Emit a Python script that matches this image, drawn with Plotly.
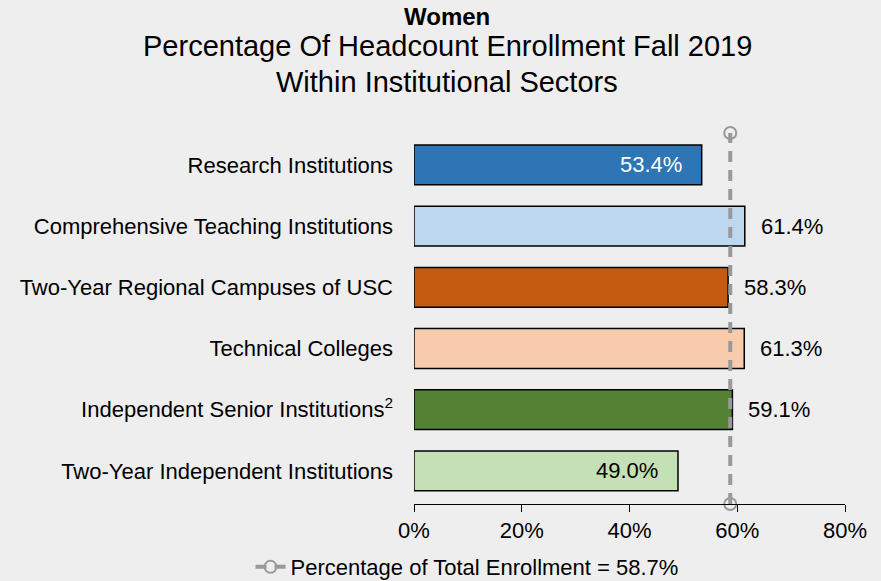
import plotly.graph_objects as go

# data
sectors = [
    "Research Institutions",
    "Comprehensive Teaching Institutions",
    "Two-Year Regional Campuses of USC",
    "Technical Colleges",
    "Independent Senior Institutions<sup>2</sup>",
    "Two-Year Independent Institutions",
]
pct_women = [53.4, 61.4, 58.3, 61.3, 59.1, 49.0]
bar_colors = ["#2E75B6", "#BDD7EE", "#C55A11", "#F8CBAD", "#548235", "#C5E0B4"]
label_colors = ["white", "black", "black", "black", "black", "black"]
label_inside = [True, False, False, False, False, True]
total_pct = 58.7

FONT = "Liberation Sans, Arial, sans-serif"
BG = "#EEEEEE"

n = len(sectors)
ypos = list(range(n - 1, -1, -1))  # top to bottom
y_range = [-0.54, n - 1 + 0.52]

fig = go.Figure()

fig.add_trace(go.Bar(
    x=pct_women, y=ypos, orientation="h",
    marker=dict(color=bar_colors, line=dict(color="black", width=1.5)),
    width=0.65, showlegend=False, hoverinfo="skip",
))

fig.add_trace(go.Scatter(
    x=[total_pct, total_pct], y=y_range,
    mode="lines+markers",
    line=dict(color="#999999", width=4, dash="11px,8px"),
    marker=dict(symbol="circle-open", size=12, color="#999999", line=dict(width=2)),
    name="Percentage of Total Enrollment = %.1f%%" % total_pct,
    cliponaxis=False,
))

# value labels
for v, y, c, inside in zip(pct_women, ypos, label_colors, label_inside):
    fig.add_annotation(
        x=v, y=y, text="%.1f%%" % v, showarrow=False,
        xanchor="right" if inside else "left",
        xshift=-18 if inside else 14,
        font=dict(family=FONT, size=22, color=c),
    )

# titles
title_x = 0.0766
fig.add_annotation(xref="paper", yref="paper", x=title_x, xanchor="center",
                   y=1.313, yanchor="middle",
                   text="<b>Women</b>", showarrow=False,
                   font=dict(family=FONT, size=24, color="black"))
fig.add_annotation(xref="paper", yref="paper", x=title_x, xanchor="center",
                   y=1.234, yanchor="middle",
                   text="Percentage Of Headcount Enrollment Fall 2019", showarrow=False,
                   font=dict(family=FONT, size=29, color="black"))
fig.add_annotation(xref="paper", yref="paper", x=title_x, xanchor="center",
                   y=1.138, yanchor="middle",
                   text="Within Institutional Sectors", showarrow=False,
                   font=dict(family=FONT, size=29, color="black"))

fig.update_layout(
    width=881, height=581,
    margin=dict(l=414, r=36, t=133, b=77, autoexpand=False),
    paper_bgcolor=BG, plot_bgcolor=BG,
    font=dict(family=FONT, size=22, color="black"),
    xaxis=dict(
        range=[0, 80], tickvals=[0, 20, 40, 60, 80],
        ticktext=["0%", "20%", "40%", "60%", "80%"],
        showgrid=False, zeroline=False, showline=True, linecolor="black", linewidth=1,
        ticks="outside", ticklen=7, tickcolor="black", tickwidth=1,
        tickfont=dict(family=FONT, size=22, color="black"),
        automargin=False,
    ),
    yaxis=dict(
        range=y_range, tickvals=ypos, ticktext=sectors,
        showgrid=False, zeroline=False, showline=False, ticks="",
        ticklabelstandoff=20,
        tickfont=dict(family=FONT, size=22, color="black"),
        automargin=False,
    ),
    legend=dict(
        orientation="h", x=0.123, xanchor="center",
        yref="container", y=0.024, yanchor="middle",
        bgcolor="rgba(0,0,0,0)", font=dict(family=FONT, size=22, color="black"),
    ),
)

fig.write_html(
    "out.html",
    config={"displayModeBar": False},
    post_script="document.body.style.margin='0';document.body.style.overflow='hidden';",
)
